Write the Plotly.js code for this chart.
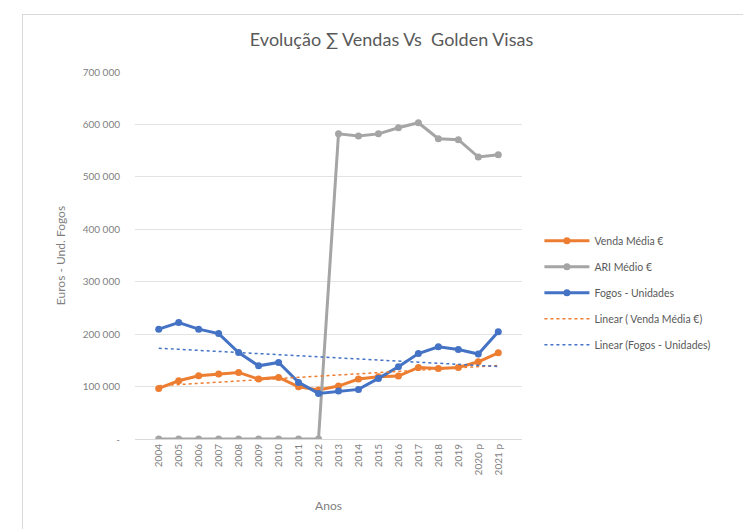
<!DOCTYPE html>
<html>
<head>
<meta charset="utf-8">
<script src="https://cdn.plot.ly/plotly-3.0.1.min.js"></script>
<style>
  html, body { margin:0; padding:0; background:#fff; overflow:hidden; }
  #frame { position:absolute; left:22px; top:14px; width:760px; height:560px; border:1px solid #d9d9d9; z-index:0; }
  #chart { position:absolute; left:0; top:0; width:743px; height:529px; z-index:1; }
</style>
</head>
<body>
<div id="frame"></div>
<div id="chart"></div>
<script>
const years = ["2004","2005","2006","2007","2008","2009","2010","2011","2012","2013","2014","2015","2016","2017","2018","2019","2020 p","2021 p"];
const vendaMedia = [96500,111000,120600,123800,127000,114300,117500,99600,93300,101000,114300,118700,120000,136500,134600,136500,147300,164400];
const ariMedio = [0,0,0,0,0,0,0,0,0,582000,577800,582000,593700,603200,572700,570800,537800,542200];
const fogos = [209500,222000,209500,201000,165000,139600,146000,108000,87000,91400,94600,115600,137800,163000,175800,170800,162000,204400];
const yTickVals = [0,100000,200000,300000,400000,500000,600000,700000];
const yTickText = ["-","100 000","200 000","300 000","400 000","500 000","600 000","700 000"];

function linearFit(vals) {
  const n = vals.length;
  let sx=0, sy=0, sxy=0, sxx=0;
  vals.forEach((v,i)=>{ sx+=i; sy+=v; sxy+=i*v; sxx+=i*i; });
  const b = (n*sxy - sx*sy)/(n*sxx - sx*sx);
  const a = (sy - b*sx)/n;
  return vals.map((v,i)=> a + b*i);
}

const orange = '#ED7D31', gray = '#A5A5A5', blue = '#4472C4';
const font = "Lato, 'Open Sans', sans-serif";

const traces = [
  {x: years, y: vendaMedia, name: 'Venda Média €', type:'scatter', mode:'lines+markers', legendgroup:'a',
   line:{color:orange, width:3}, marker:{color:orange, size:7}},
  {x: years, y: ariMedio, name: 'ARI Médio €', type:'scatter', mode:'lines+markers', legendgroup:'b',
   line:{color:gray, width:3}, marker:{color:gray, size:7}},
  {x: years, y: fogos, name: 'Fogos - Unidades', type:'scatter', mode:'lines+markers', legendgroup:'c',
   line:{color:blue, width:3}, marker:{color:blue, size:7}},
  {x: years, y: linearFit(vendaMedia), name: 'Linear ( Venda Média €)', type:'scatter', mode:'lines', legendgroup:'d',
   line:{color:orange, width:1.5, dash:'dot'}},
  {x: years, y: linearFit(fogos), name: 'Linear (Fogos - Unidades)', type:'scatter', mode:'lines', legendgroup:'e',
   line:{color:blue, width:1.5, dash:'dot'}}
];

const layout = {
  width: 743, height: 529,
  paper_bgcolor: 'rgba(0,0,0,0)', plot_bgcolor: 'rgba(0,0,0,0)',
  margin: {l:135, r:221, t:71.5, b:90},
  font: {family: font, color:'#7f7f7f', size:10},
  title: {text: 'Evolução ∑ Vendas Vs  Golden Visas', font:{family: font, size:18, color:'#595959'},
          x: 0.527, xanchor:'center', y: 0.925, yanchor:'middle'},
  xaxis: {type:'category', tickangle:-90, showgrid:false, showline:true, linecolor:'#d9d9d9', linewidth:1,
          ticks:'', tickfont:{size:10, color:'#7f7f7f'}, zeroline:false,
          title:{text:'Anos', font:{size:12, color:'#7f7f7f'}, standoff:27}},
  yaxis: {range:[0,700000], tickvals: yTickVals, ticktext: yTickText, showgrid:true, gridcolor:'#e3e3e3',
          gridwidth:1, zeroline:false, showline:false, ticks:'', ticklabelstandoff:14,
          tickfont:{size:10, color:'#7f7f7f'},
          title:{text:'Euros - Und. Fogos', font:{size:12, color:'#7f7f7f'}, standoff:14}},
  legend: {x:1.045, xanchor:'left', y:0.58, yanchor:'top', bgcolor:'rgba(0,0,0,0)', traceorder:'grouped',
           font:{size:10.5, color:'#595959'}, itemwidth:45, tracegroupgap:7},
  showlegend: true
};

Plotly.newPlot('chart', traces, layout, {displayModeBar:false, staticPlot:true});
</script>
</body>
</html>
